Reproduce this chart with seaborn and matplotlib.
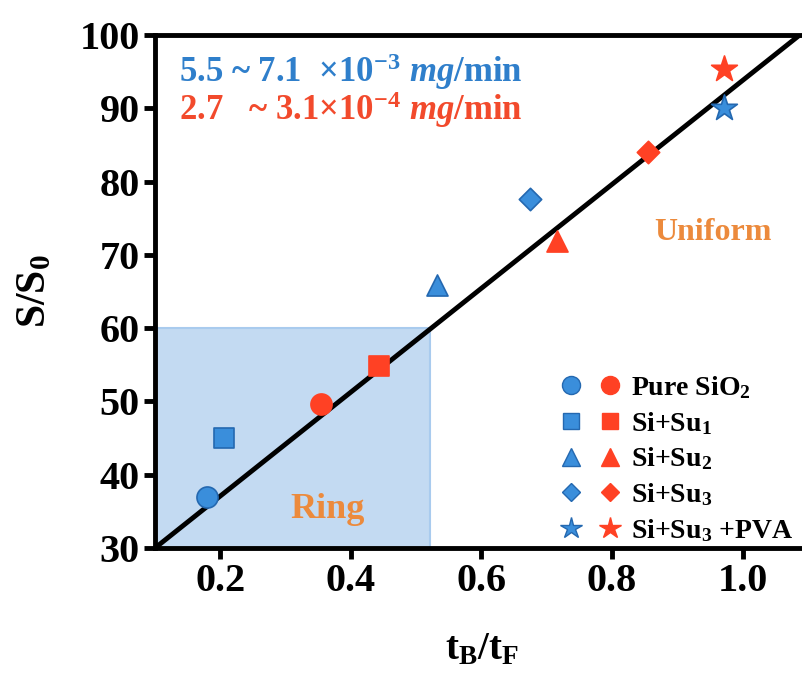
import numpy as np
import pandas as pd
import matplotlib
matplotlib.use("Agg")
import matplotlib.pyplot as plt
import seaborn as sns
from matplotlib.legend_handler import HandlerTuple
from matplotlib.lines import Line2D
from matplotlib.patches import Rectangle

# ---- data ----
samples = ["Pure SiO$_\\mathregular{2}$", "Si+Su$_\\mathregular{1}$", "Si+Su$_\\mathregular{2}$",
           "Si+Su$_\\mathregular{3}$", "Si+Su$_\\mathregular{3}$ +PVA"]
sample_markers = ["o", "s", "^", "D", "*"]

blue_x = [0.18, 0.206, 0.532, 0.674, 0.971]
blue_y = [36.9, 45.0, 65.9, 77.6, 90.0]
red_x = [0.354, 0.443, 0.716, 0.855, 0.971]
red_y = [49.6, 54.9, 71.9, 84.0, 95.3]

fit_x = [0.10, 1.10]
fit_y = [30.0, 100.9]

ring_x = [0.10, 0.521]
ring_y = [30.0, 60.0]

xticks = [0.2, 0.4, 0.6, 0.8, 1.0]
yticks = [30, 40, 50, 60, 70, 80, 90, 100]

rate_blue = "5.5 ~ 7.1  \u00d710$^\\mathregular{-3}$ $\\mathit{mg}$/min"
rate_red = "2.7   ~ 3.1\u00d710$^\\mathregular{-4}$ $\\mathit{mg}$/min"

BLUE = "#3A8EDB"
BLUE_EDGE = "#2468B0"
RED = "#FF4124"
BLUE_TXT = "#2F7FCB"
RED_TXT = "#F24A2C"
ORANGE = "#EC8A3C"

sns.set_theme(style="white")
plt.rcParams["font.family"] = ["Liberation Serif", "DejaVu Serif"]
plt.rcParams["font.weight"] = "bold"
plt.rcParams["text.color"] = "black"
plt.rcParams["axes.labelcolor"] = "black"
plt.rcParams["xtick.color"] = "black"
plt.rcParams["ytick.color"] = "black"
plt.rcParams["mathtext.fontset"] = "custom"
plt.rcParams["mathtext.rm"] = "Liberation Serif:bold"
plt.rcParams["mathtext.it"] = "Liberation Serif:italic:bold"
plt.rcParams["mathtext.bf"] = "Liberation Serif:bold"

df = pd.DataFrame({
    "x": blue_x + red_x,
    "y": blue_y + red_y,
    "sample": samples + samples,
    "rate": ["fast"] * 5 + ["slow"] * 5,
})

fig = plt.figure(figsize=(8.02, 6.83), dpi=100)
ax = fig.add_axes([155 / 802, 1 - 548 / 683, 653 / 802, (548 - 35) / 683])

# ring region
ax.add_patch(Rectangle((ring_x[0], ring_y[0]), ring_x[1] - ring_x[0], ring_y[1] - ring_y[0],
                       facecolor="#C3DAF2", edgecolor="#A9CBEE", linewidth=1.5, zorder=0))

# fitted line
sns.lineplot(x=fit_x, y=fit_y, ax=ax, color="black", linewidth=3.5, zorder=2)

marker_map = dict(zip(samples, sample_markers))
sizes = {"o": 230, "s": 200, "^": 230, "D": 130, "*": 380}
for (rate, smp), sub in df.groupby(["rate", "sample"], sort=False):
    mk = marker_map[smp]
    sns.scatterplot(data=sub, x="x", y="y", ax=ax, marker=mk, s=sizes[mk],
                    color=BLUE if rate == "fast" else RED,
                    edgecolor=BLUE_EDGE if rate == "fast" else RED,
                    linewidth=1.2, zorder=3, legend=False)

ax.set_xlim(0.1, 1.1)
ax.set_ylim(30, 100)
ax.set_xticks(xticks)
ax.set_xticklabels([f"{v:.1f}" for v in xticks])
ax.set_yticks(yticks)
ax.tick_params(axis="both", which="major", direction="out", length=8, width=3.5,
               labelsize=29, pad=3, color="black", labelcolor="black", bottom=True, left=True)
for lab in ax.get_xticklabels() + ax.get_yticklabels():
    lab.set_fontweight("bold")
for side in ["left", "bottom", "top"]:
    ax.spines[side].set_linewidth(3.5)
    ax.spines[side].set_color("black")
ax.spines["right"].set_visible(False)

ax.set_xlabel("t$_\\mathregular{B}$/t$_\\mathregular{F}$", fontsize=28, fontweight="bold", labelpad=22)
ax.set_ylabel("S/S$_\\mathregular{0}$", fontsize=30, fontweight="bold", labelpad=18)

ax.text(0.137, 95.0, rate_blue, color=BLUE_TXT, fontsize=25, fontweight="bold", va="center", ha="left")
ax.text(0.137, 89.8, rate_red, color=RED_TXT, fontsize=25, fontweight="bold", va="center", ha="left")
ax.text(0.955, 73.0, "Uniform", color=ORANGE, fontsize=23, fontweight="bold", ha="center", va="center")
ax.text(0.365, 35.3, "Ring", color=ORANGE, fontsize=26, fontweight="bold", ha="center", va="center")

handles = []
msz = {"o": 13, "s": 12, "^": 13, "D": 9.5, "*": 16}
for smp, mk in zip(samples, sample_markers):
    hb = Line2D([], [], marker=mk, linestyle="none", markersize=msz[mk],
                markerfacecolor=BLUE, markeredgecolor=BLUE_EDGE, markeredgewidth=1.0)
    hr = Line2D([], [], marker=mk, linestyle="none", markersize=msz[mk],
                markerfacecolor=RED, markeredgecolor=RED, markeredgewidth=1.0)
    handles.append((hb, hr))
leg = ax.legend(handles, samples, handler_map={tuple: HandlerTuple(ndivide=None, pad=0.8)},
                loc="lower right", bbox_to_anchor=(1.0, -0.022), frameon=False,
                prop={"family": "Liberation Serif", "weight": "bold", "size": 20},
                handlelength=2.0, handletextpad=0.45, labelspacing=0.32, borderaxespad=0.15)

fig.savefig("out.png", dpi=100)
